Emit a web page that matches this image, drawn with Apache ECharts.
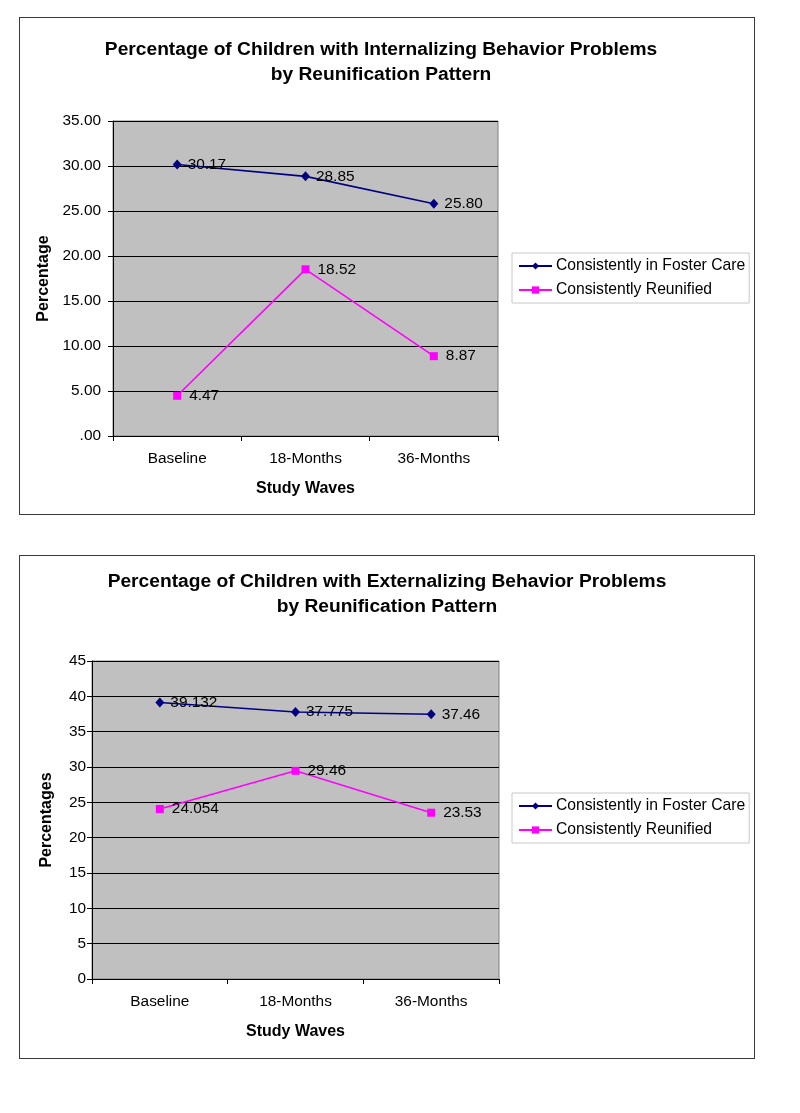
<!DOCTYPE html>
<html>
<head>
<meta charset="utf-8">
<script src="https://cdn.jsdelivr.net/npm/echarts@6/dist/echarts.min.js"></script>
<style>
  html, body { margin: 0; padding: 0; background: #fff; width: 800px; height: 1113px; overflow: hidden; }
  .box { position: absolute; box-sizing: border-box; border: 1px solid #3a3a3a; background: #fff; }
  #c1 { left: 19px; top: 17px; width: 736px; height: 498px; }
  #c2 { left: 19px; top: 555px; width: 736px; height: 504px; }
</style>
</head>
<body>
<div id="c1" class="box"></div>
<div id="c2" class="box"></div>
<script>
// ---- data ----
const categories = ['Baseline', '18-Months', '36-Months'];
const seriesNames = ['Consistently in Foster Care', 'Consistently Reunified'];

const internalTitle = 'Percentage of Children with Internalizing Behavior Problems\nby Reunification Pattern';
const internalFoster = [30.17, 28.85, 25.80];
const internalReunified = [4.47, 18.52, 8.87];

const externalTitle = 'Percentage of Children with Externalizing Behavior Problems\nby Reunification Pattern';
const externalFoster = [39.132, 37.775, 37.46];
const externalReunified = [24.054, 29.46, 23.53];

const xAxisName = 'Study Waves';
const internalYName = 'Percentage';
const externalYName = 'Percentages';

// ---- style ----
const FONT = 'Arial, "Liberation Sans", sans-serif';
const NAVY = '#000080';
const MAGENTA = '#FF00FF';

function makeOption(cfg) {
  return {
    animation: false,
    textStyle: { fontFamily: FONT, color: '#000' },
    title: {
      text: cfg.title,
      left: cfg.titleX,
      top: cfg.titleTop,
      textAlign: 'center',
      padding: 0,
      textStyle: { fontFamily: FONT, fontSize: 19.2, fontWeight: 'bold', color: '#000', lineHeight: 25 }
    },
    legend: {
      orient: 'vertical',
      left: 492,
      top: cfg.legendTop,
      padding: [5, 4, 5, 6],
      itemWidth: 33,
      itemHeight: 9,
      itemGap: 8,
      borderColor: '#c8c8c8',
      borderWidth: 1,
      backgroundColor: '#fff',
      textStyle: { fontFamily: FONT, fontSize: 15.7, color: '#000', padding: [0, 0, 0, -1] },
      data: seriesNames
    },
    grid: {
      left: cfg.grid.left, top: cfg.grid.top, width: cfg.grid.width, height: cfg.grid.height,
      show: true, backgroundColor: '#C0C0C0', borderColor: '#808080', borderWidth: 1
    },
    xAxis: {
      type: 'category',
      data: categories,
      boundaryGap: true,
      name: xAxisName,
      nameLocation: 'middle',
      nameGap: 45,
      nameTextStyle: { fontFamily: FONT, fontSize: 16, fontWeight: 'bold', color: '#000' },
      axisLine: { lineStyle: { color: '#000', width: 1 } },
      axisTick: { show: true, inside: false, length: 5, lineStyle: { color: '#000' } },
      axisLabel: { fontFamily: FONT, fontSize: 15.4, color: '#000', margin: 15 },
      splitLine: { show: false }
    },
    yAxis: {
      type: 'value',
      min: 0,
      max: cfg.yMax,
      interval: 5,
      name: cfg.yName,
      nameLocation: 'middle',
      nameGap: cfg.yNameGap,
      nameRotate: 90,
      nameTextStyle: { fontFamily: FONT, fontSize: 16, fontWeight: 'bold', color: '#000' },
      axisLine: { show: true, lineStyle: { color: '#000', width: 1 } },
      axisTick: { show: true, inside: false, length: 5, lineStyle: { color: '#000' } },
      axisLabel: { fontFamily: FONT, fontSize: 15.4, color: '#000', margin: cfg.yLabelMargin, formatter: cfg.yFormatter },
      splitLine: { show: true, lineStyle: { color: '#000', width: 1 } }
    },
    series: [
      {
        name: seriesNames[0],
        type: 'line',
        data: cfg.foster,
        symbol: 'diamond',
        symbolSize: [9, 10],
        lineStyle: { color: NAVY, width: 1.6 },
        itemStyle: { color: NAVY },
        label: { show: true, position: 'right', distance: 6, fontFamily: FONT, fontSize: 15.4, color: '#000', formatter: cfg.labelFormatter },
        z: 3
      },
      {
        name: seriesNames[1],
        type: 'line',
        data: cfg.reunified,
        symbol: 'rect',
        symbolSize: 8,
        lineStyle: { color: MAGENTA, width: 1.6 },
        itemStyle: { color: MAGENTA },
        label: { show: true, position: 'right', distance: 8, fontFamily: FONT, fontSize: 15.4, color: '#000', formatter: cfg.labelFormatter },
        z: 3
      }
    ]
  };
}

const chart1 = echarts.init(document.getElementById('c1'), null, { renderer: 'canvas' });
chart1.setOption(makeOption({
  title: internalTitle,
  titleX: 361,
  titleTop: 19,
  legendTop: 235,
  grid: { left: 93, top: 103, width: 385, height: 315 },
  yMax: 35,
  yName: internalYName,
  yNameGap: 56,
  yLabelMargin: 12,
  yFormatter: function (v) { return v === 0 ? '.00' : v.toFixed(2); },
  labelFormatter: function (p) { return p.value.toFixed(2); },
  foster: internalFoster,
  reunified: internalReunified
}));

const chart2 = echarts.init(document.getElementById('c2'), null, { renderer: 'canvas' });
chart2.setOption(makeOption({
  title: externalTitle,
  titleX: 367,
  titleTop: 13,
  legendTop: 237,
  grid: { left: 72, top: 105, width: 407, height: 318 },
  yMax: 45,
  yName: externalYName,
  yNameGap: 37,
  yLabelMargin: 6,
  yFormatter: function (v) { return String(v); },
  labelFormatter: function (p) { return String(p.value); },
  foster: externalFoster,
  reunified: externalReunified
}));
</script>
</body>
</html>
